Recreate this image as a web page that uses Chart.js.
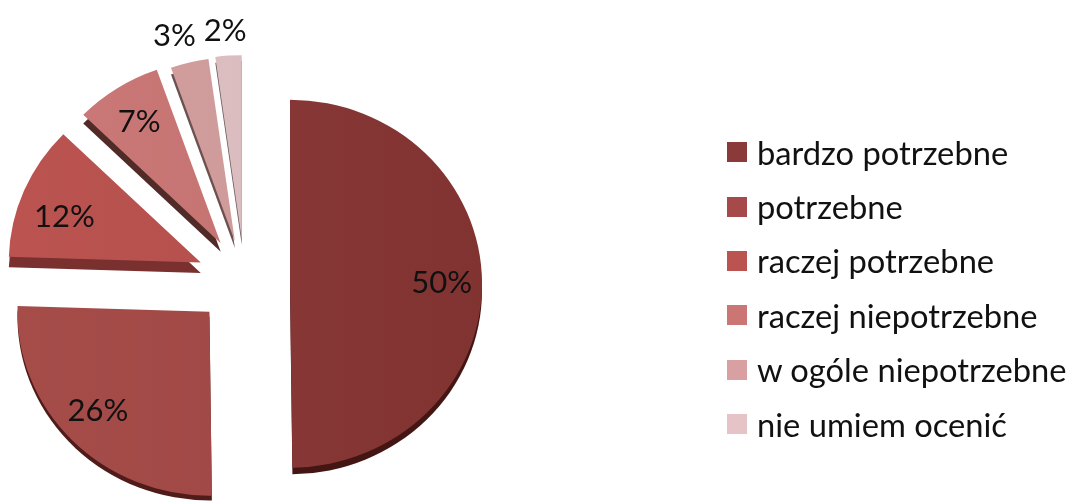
<!DOCTYPE html>
<html>
<head>
<meta charset="utf-8">
<script src="https://cdn.jsdelivr.net/npm/chart.js@4"></script>
<style>
  html, body { margin: 0; padding: 0; background: #fff; }
  #wrap { position: relative; width: 1071px; height: 504px; overflow: hidden; }
  #legend { position: absolute; left: 727px; top: 125px; margin: 0; padding: 0; list-style: none;
            font-family: Lato, sans-serif; font-size: 32.7px; color: #111; }
  #legend li { display: flex; align-items: center; height: 54.4px; white-space: nowrap; }
  #legend i { width: 20px; height: 20px; margin-right: 10px; display: block; }
</style>
</head>
<body>
<div id="wrap">
  <canvas id="chart" width="1071" height="504"></canvas>
  <ul id="legend"></ul>
</div>
<script>
var categories = ['bardzo potrzebne', 'potrzebne', 'raczej potrzebne', 'raczej niepotrzebne', 'w ogóle niepotrzebne', 'nie umiem ocenić'];
var shares = [49.8, 25.7, 11.8, 7.3, 3.2, 2.2];

var lightColors = ['#8c3c3a', '#a64d4a', '#bb5451', '#cc7a79', '#d4a0a0', '#e0c2c4'];
var darkColors = ['#813332', '#9b4441', '#af4c49', '#bf6e6c', '#cb9695', '#d8b8ba'];
var rimColors = ['#431614', '#4f1c1a', '#7a302e', '#512b27', '#6b5250', '#6e5f60'];
var legendColors = ['#8a3a38', '#a5494a', '#bb5350', '#cb7675', '#d9a0a1', '#e6c3c7'];

var pieRadius = 192;
var explode = 47;     // how far each slice is pulled out
var squash = 0.958;   // the pie is drawn slightly tilted
var rimDepth = [7, 5, 11, 9, 7, 6];

// the 3D perspective moves the slices a little off their straight line
var sliceDx = [0, 0, 1, 3, 3, 2];
var sliceDy = [0, -4, -4, -3, 1, 0];

// where the percent labels sit: part of the slice radius, then a small nudge
var labelReach = [0.79, 0.77, 0.76, 0.75, 1.11, 1.10];
var labelDx = [0, -6, -2, -4, -10, -2];
var labelDy = [0, 0, 9, -5, -7, -6];

function sliceFill(ctx) {
    var i = ctx.dataIndex;
    var g = ctx.chart.ctx.createLinearGradient(0, 0, 486, 0);
    g.addColorStop(0, lightColors[i]);
    g.addColorStop(1, darkColors[i]);
    return g;
}

var tiltPlugin = {
    id: 'tilt',
    // pull the slices out by moving the elements, the offset option also changes their shape
    afterDatasetsUpdate: function (chart) {
        chart.getDatasetMeta(0).data.forEach(function (arc, i) {
            var mid = (arc.startAngle + arc.endAngle) / 2;
            arc.x += Math.cos(mid) * explode + sliceDx[i];
            arc.y += Math.sin(mid) * explode + sliceDy[i];
        });
    },
    beforeDatasetsDraw: function (chart) {
        var c = chart.ctx;
        var cy = (chart.chartArea.top + chart.chartArea.bottom) / 2;
        c.save();
        c.translate(0, cy);
        c.scale(1, squash);
        c.translate(0, -cy);
        // dark side of every slice, under the top face
        chart.getDatasetMeta(0).data.forEach(function (arc, i) {
            c.beginPath();
            c.moveTo(arc.x, arc.y + rimDepth[i]);
            c.arc(arc.x, arc.y + rimDepth[i], arc.outerRadius, arc.startAngle, arc.endAngle);
            c.closePath();
            c.fillStyle = rimColors[i];
            c.fill();
        });
    },
    afterDatasetsDraw: function (chart) {
        var c = chart.ctx;
        var cy = (chart.chartArea.top + chart.chartArea.bottom) / 2;
        c.restore();
        c.save();
        c.font = '31px Lato, sans-serif';
        c.fillStyle = '#111';
        c.textAlign = 'center';
        c.textBaseline = 'middle';
        chart.getDatasetMeta(0).data.forEach(function (arc, i) {
            var mid = (arc.startAngle + arc.endAngle) / 2;
            var r = arc.outerRadius * labelReach[i];
            var x = arc.x + Math.cos(mid) * r + labelDx[i];
            var y = cy + (arc.y + Math.sin(mid) * r - cy) * squash + labelDy[i];
            c.fillText(Math.round(shares[i]) + '%', x, y);
        });
        c.restore();
    }
};

var legendList = document.getElementById('legend');
categories.forEach(function (name, i) {
    var li = document.createElement('li');
    var box = document.createElement('i');
    box.style.background = legendColors[i];
    li.appendChild(box);
    li.appendChild(document.createTextNode(name));
    legendList.appendChild(li);
});

new Chart(document.getElementById('chart').getContext('2d'), {
    type: 'pie',
    data: {
        labels: categories,
        datasets: [{
            data: shares,
            backgroundColor: sliceFill,
            borderWidth: 0
        }]
    },
    options: {
        responsive: false,
        animation: false,
        radius: pieRadius,
        layout: { padding: { left: 0, right: 585, top: 64, bottom: 0 } },
        plugins: { legend: { display: false }, tooltip: { enabled: false } }
    },
    plugins: [tiltPlugin]
});
</script>
</body>
</html>
